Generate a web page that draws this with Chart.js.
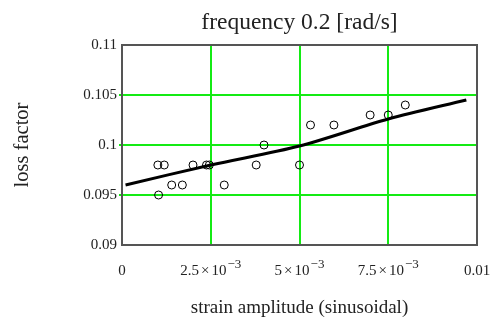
<!DOCTYPE html>
<html>
<head>
<meta charset="utf-8">
<script src="https://cdn.jsdelivr.net/npm/chart.js@4.4.1/dist/chart.umd.min.js"></script>
<style>
  html, body { margin: 0; padding: 0; background: #fff; }
  #wrap { width: 497px; height: 324px; }
</style>
</head>
<body>
<div id="wrap"><canvas id="c" width="497" height="324"></canvas></div>
<script>
// ---- data ----
const strainX = [0.00101, 0.00119, 0.00103, 0.0014, 0.0017, 0.0020, 0.00238, 0.00246, 0.00288, 0.00378, 0.0040, 0.0050, 0.00531, 0.00597, 0.00699, 0.0075, 0.00798];
const lossY   = [0.098,   0.098,   0.095,   0.096,  0.096,  0.098,  0.098,   0.098,   0.096,   0.098,   0.100,  0.098,  0.102,   0.102,   0.103,   0.103,  0.104];
const fitX = [0.0001, 0.0025, 0.005, 0.0075, 0.0097];
const fitY = [0.0960, 0.0980, 0.0999, 0.1026, 0.1045];
const xTickValues = [0, 0.0025, 0.005, 0.0075, 0.01];
const xTickMantissa = ['0', '2.5', '5', '7.5', '0.01'];
const xTickExponent = [null, '\u22123', '\u22123', '\u22123', null];
const yTickLabels = ['0.09', '0.095', '0.1', '0.105', '0.11'];
const chartTitle = 'frequency 0.2 [rad/s]';
const xTitle = 'strain amplitude (sinusoidal)';
const yTitle = 'loss factor';

const SERIF = '"Liberation Serif", "Times New Roman", serif';
const TEXT = '#222';
const GREEN = 'rgb(20,235,20)';
const CLEAR = 'rgba(0,0,0,0)';

const gridPlugin = {
  id: 'greengrid',
  beforeDatasetsDraw(chart) {
    const {ctx, chartArea: a, scales: {x: xs, y: ys}} = chart;
    ctx.save();
    ctx.strokeStyle = GREEN;
    ctx.lineWidth = 2;
    ctx.beginPath();
    xTickValues.slice(1, -1).forEach(v => {
      const px = Math.round(xs.getPixelForValue(v));
      ctx.moveTo(px, a.top);
      ctx.lineTo(px, a.bottom);
    });
    yTickLabels.slice(1, -1).forEach(t => {
      const py = Math.round(ys.getPixelForValue(parseFloat(t)));
      ctx.moveTo(a.left - 3, py);
      ctx.lineTo(a.right, py);
    });
    ctx.stroke();
    ctx.restore();
  },
  afterDraw(chart) {
    const {ctx, chartArea: a} = chart;
    ctx.save();
    ctx.strokeStyle = '#555';
    ctx.lineWidth = 2;
    ctx.strokeRect(a.left, a.top, a.right - a.left, a.bottom - a.top);
    // title centred over the plot area
    ctx.fillStyle = TEXT;
    ctx.font = '23.5px ' + SERIF;
    ctx.textAlign = 'center';
    ctx.textBaseline = 'alphabetic';
    ctx.fillText(chartTitle, (a.left + a.right) / 2, 29);
    // x tick labels with superscript exponents
    const xs = chart.scales.x;
    ctx.textAlign = 'left';
    const baseY = 275;
    xTickValues.forEach((v, i) => {
      const px = xs.getPixelForValue(v);
      const m = xTickMantissa[i];
      const e = xTickExponent[i];
      ctx.font = '15px ' + SERIF;
      if (!e) {
        const w = ctx.measureText(m).width;
        ctx.fillText(m, px - w / 2, baseY);
        return;
      }
      const gap = 2;
      const w1 = ctx.measureText(m).width;
      const w2 = ctx.measureText('\u00d7').width;
      const w3 = ctx.measureText('10').width;
      ctx.font = '13px ' + SERIF;
      const w4 = ctx.measureText(e).width;
      const total = w1 + gap + w2 + gap + w3 + 1 + w4;
      let x = px - total / 2;
      ctx.font = '15px ' + SERIF;
      ctx.fillText(m, x, baseY); x += w1 + gap;
      ctx.fillText('\u00d7', x, baseY); x += w2 + gap;
      ctx.fillText('10', x, baseY); x += w3 + 1;
      ctx.font = '13px ' + SERIF;
      ctx.fillText(e, x, baseY - 7);
    });
    ctx.restore();
  }
};

new Chart(document.getElementById('c'), {
  type: 'scatter',
  data: {
    datasets: [
      {
        label: 'fit',
        type: 'line',
        data: fitX.map((x, i) => ({x, y: fitY[i]})),
        borderColor: '#000',
        borderWidth: 3,
        pointRadius: 0,
        fill: false,
        tension: 0.3,
        order: 1
      },
      {
        label: 'measured',
        data: strainX.map((x, i) => ({x, y: lossY[i]})),
        pointStyle: 'circle',
        pointRadius: 4,
        pointBorderWidth: 1,
        borderColor: '#000',
        backgroundColor: CLEAR,
        pointBackgroundColor: CLEAR,
        pointBorderColor: '#000',
        order: 0
      }
    ]
  },
  options: {
    responsive: false,
    animation: false,
    devicePixelRatio: 1,
    layout: { padding: { left: 0, right: 20, top: 45, bottom: 0 } },
    plugins: {
      legend: { display: false },
      tooltip: { enabled: false },
      title: { display: false }
    },
    scales: {
      x: {
        type: 'linear',
        min: 0, max: 0.01,
        afterBuildTicks(s) { s.ticks = xTickValues.map(v => ({value: v})); },
        afterFit(s) { s.height = 79; },
        ticks: { display: false },
        grid: { display: false },
        border: { display: false },
        title: {
          display: true,
          text: xTitle,
          color: TEXT,
          font: { family: SERIF, size: 19, lineHeight: 1.2 },
          padding: { top: 0, bottom: 5 }
        }
      },
      y: {
        type: 'linear',
        min: 0.09, max: 0.11,
        afterBuildTicks(s) { s.ticks = yTickLabels.map(t => ({value: parseFloat(t)})); },
        afterFit(s) { s.width = 122; },
        ticks: {
          color: TEXT,
          font: { family: SERIF, size: 15 },
          padding: 5,
          callback: (v, i) => yTickLabels[i]
        },
        grid: { display: false, drawTicks: false },
        border: { display: false },
        title: {
          display: true,
          text: yTitle,
          color: TEXT,
          font: { family: SERIF, size: 20.5, lineHeight: 1.2 },
          padding: { top: 10, bottom: 0 }
        }
      }
    }
  },
  plugins: [gridPlugin]
});
</script>
</body>
</html>
